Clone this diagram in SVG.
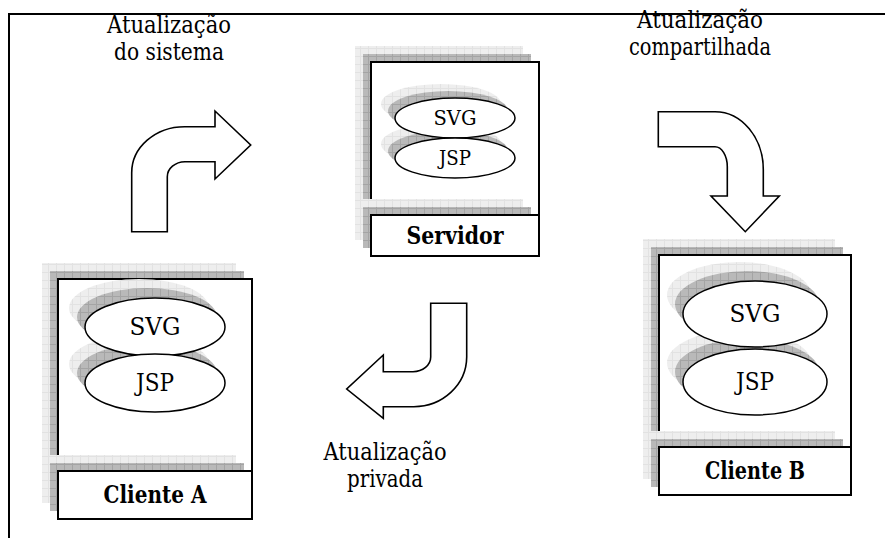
<svg xmlns="http://www.w3.org/2000/svg" width="885" height="538" viewBox="0 0 885 538">
<defs>
<pattern id="pl" patternUnits="userSpaceOnUse" width="8" height="8"><rect width="8" height="8" fill="#eeeeee"/><path d="M0 0.5H8M0.5 0V8" stroke="#e2e2e2" stroke-width="1"/></pattern>
<pattern id="pd" patternUnits="userSpaceOnUse" width="8" height="8"><rect width="8" height="8" fill="#b9b9b9"/><path d="M0 0.5H8M0.5 0V8" stroke="#a4a4a4" stroke-width="1"/></pattern>
<style>
.sl{fill:url(#pl)}
.sd{fill:url(#pd)}
.bx{fill:#fff;stroke:#000;stroke-width:2}
.el{fill:#fff;stroke:#000;stroke-width:1.5}
.ar{fill:#fff;stroke:#000;stroke-width:1.6;stroke-linejoin:miter}
text{font-family:'DejaVu Serif',serif;font-size:24px;fill:#000;text-anchor:middle}
.ts{font-size:20px}
.b{font-weight:bold}
</style>
</defs>
<rect width="885" height="538" fill="#fff"/>
<path d="M9 539V14H886" fill="none" stroke="#000" stroke-width="2"/>

<g id="label-sistema">
<text x="169" y="33" textLength="124" lengthAdjust="spacingAndGlyphs">Atualização</text>
<text x="169" y="60" textLength="110" lengthAdjust="spacingAndGlyphs">do sistema</text>
</g>
<g id="label-compartilhada">
<text x="700" y="28" textLength="126" lengthAdjust="spacingAndGlyphs">Atualização</text>
<text x="700" y="55" textLength="142" lengthAdjust="spacingAndGlyphs">compartilhada</text>
</g>
<g id="label-privada">
<text x="385" y="460" textLength="123" lengthAdjust="spacingAndGlyphs">Atualização</text>
<text x="385" y="487" textLength="76" lengthAdjust="spacingAndGlyphs">privada</text>
</g>

<g id="servidor">
<rect class="sl" x="355" y="46" width="168" height="194"/>
<rect class="sd" x="363" y="54" width="168" height="194"/>
<rect class="bx" x="371" y="62" width="168" height="194"/>
<ellipse class="sl" cx="441" cy="104" rx="60" ry="20"/>
<ellipse class="sd" cx="448" cy="111" rx="60" ry="20"/>
<ellipse class="sl" cx="441" cy="144" rx="60" ry="20"/>
<ellipse class="sd" cx="448" cy="151" rx="60" ry="20"/>
<ellipse class="el" cx="455" cy="118" rx="60" ry="20"/>
<ellipse class="el" cx="455" cy="158" rx="60" ry="20"/>
<text class="ts" x="455" y="125" textLength="43" lengthAdjust="spacingAndGlyphs">SVG</text>
<text class="ts" x="455" y="165" textLength="32" lengthAdjust="spacingAndGlyphs">JSP</text>
<rect class="sl" x="355" y="199" width="168" height="41"/>
<rect class="sd" x="363" y="207" width="168" height="41"/>
<rect class="bx" x="371" y="215" width="168" height="41"/>
<text class="b" x="455" y="244" textLength="97" lengthAdjust="spacingAndGlyphs">Servidor</text>
</g>

<g id="cliente-a">
<rect class="sl" x="42" y="263" width="194" height="240"/>
<rect class="sd" x="50" y="271" width="194" height="240"/>
<rect class="bx" x="58" y="279" width="194" height="240"/>
<ellipse class="sl" cx="139" cy="308" rx="70" ry="29"/>
<ellipse class="sd" cx="147" cy="317" rx="70" ry="29"/>
<ellipse class="sl" cx="139" cy="364" rx="70" ry="29"/>
<ellipse class="sd" cx="147" cy="373" rx="70" ry="29"/>
<ellipse class="el" cx="155" cy="327" rx="70" ry="29"/>
<ellipse class="el" cx="155" cy="383" rx="70" ry="29"/>
<text x="155" y="335" textLength="51" lengthAdjust="spacingAndGlyphs">SVG</text>
<text x="155" y="391" textLength="38" lengthAdjust="spacingAndGlyphs">JSP</text>
<rect class="sl" x="42" y="455" width="194" height="48"/>
<rect class="sd" x="50" y="463" width="194" height="48"/>
<rect class="bx" x="58" y="471" width="194" height="48"/>
<text class="b" x="155" y="503" textLength="103" lengthAdjust="spacingAndGlyphs">Cliente A</text>
</g>

<g id="cliente-b">
<rect class="sl" x="643" y="239" width="192" height="240"/>
<rect class="sd" x="651" y="247" width="192" height="240"/>
<rect class="bx" x="659" y="255" width="192" height="240"/>
<ellipse class="sl" cx="739" cy="295" rx="72" ry="33"/>
<ellipse class="sd" cx="747" cy="304" rx="72" ry="33"/>
<ellipse class="sl" cx="739" cy="363" rx="72" ry="33"/>
<ellipse class="sd" cx="747" cy="372" rx="72" ry="33"/>
<ellipse class="el" cx="755" cy="314" rx="72" ry="33"/>
<ellipse class="el" cx="755" cy="382" rx="72" ry="33"/>
<text x="755" y="322" textLength="51" lengthAdjust="spacingAndGlyphs">SVG</text>
<text x="755" y="390" textLength="38" lengthAdjust="spacingAndGlyphs">JSP</text>
<rect class="sl" x="643" y="431" width="192" height="48"/>
<rect class="sd" x="651" y="439" width="192" height="48"/>
<rect class="bx" x="659" y="447" width="192" height="48"/>
<text class="b" x="755" y="479" textLength="100" lengthAdjust="spacingAndGlyphs">Cliente B</text>
</g>

<g id="connectors">
<path id="arrow-sistema" class="ar" d="M131.7,231.7 L131.7,173 A53,46 0 0 1 185,126.7 L215,126.7 L215,111 L250.7,145 L215,179 L215,161.7 L185,161.7 A18,15 0 0 0 167.3,176.7 L167.3,231.7 Z"/>
<path id="arrow-compartilhada" class="ar" d="M658.3,111.7 L715,111.7 A48.3,58 0 0 1 763.3,170 L763.3,196 L779.3,196 L745.3,231.7 L711,196 L727.3,196 L727.3,166.7 A12.3,20 0 0 0 715,146.7 L658.3,146.7 Z"/>
<path id="arrow-privada" class="ar" d="M430.7,303.3 L466.7,303.3 L466.7,357 A53,50 0 0 1 413,406.7 L383.3,406.7 L383.3,418.3 L346.7,389 L383.3,355 L383.3,371.7 L413,371.7 A17.7,14.7 0 0 0 430.7,357 Z"/>
</g>
</svg>
